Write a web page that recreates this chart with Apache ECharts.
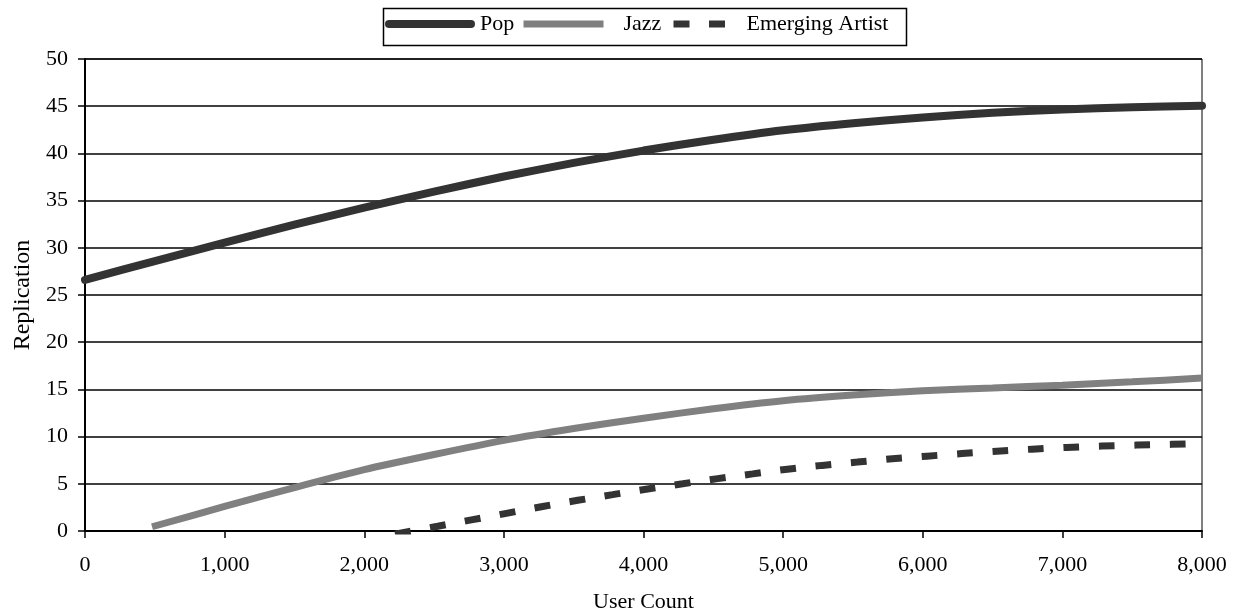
<!DOCTYPE html>
<html>
<head>
<meta charset="utf-8">
<script src="https://cdn.jsdelivr.net/npm/echarts@6/dist/echarts.min.js"></script>
<style>
html,body{margin:0;padding:0;background:#fff;}
#chart{width:1235px;height:612px;}
</style>
</head>
<body>
<div id="chart"></div>
<script>
// ---- data ----
var seriesNames = ['Pop', 'Jazz', 'Emerging Artist'];
var xTicks = [0, 1000, 2000, 3000, 4000, 5000, 6000, 7000, 8000];
var yTicks = [0, 5, 10, 15, 20, 25, 30, 35, 40, 45, 50];

var popData = [
  [0, 26.6], [500, 28.6], [1000, 30.55], [1500, 32.45], [2000, 34.25], [2500, 35.95],
  [3000, 37.55], [3500, 39.0], [4000, 40.3], [4500, 41.45], [5000, 42.45], [5500, 43.2],
  [6000, 43.8], [6500, 44.3], [7000, 44.65], [7500, 44.9], [8000, 45.05]
];
var jazzData = [
  [480, 0.45], [1000, 2.6], [1500, 4.6], [2000, 6.5], [2500, 8.1], [3000, 9.6],
  [3500, 10.85], [4000, 11.95], [4500, 12.95], [5000, 13.8], [5500, 14.4], [6000, 14.85],
  [6500, 15.15], [7000, 15.45], [7500, 15.8], [8000, 16.2]
];
var emergingData = [
  [2220, -0.33], [2526, 0.5], [2777, 1.2], [3027, 1.9], [3278, 2.6], [3529, 3.25],
  [3779, 3.85], [4030, 4.45], [4281, 5.0], [4531, 5.55], [4782, 6.05], [5030, 6.55],
  [5280, 6.95], [5531, 7.3], [5782, 7.65], [6030, 7.93], [6281, 8.2], [6532, 8.45],
  [6782, 8.67], [7030, 8.85], [7281, 9.0], [7532, 9.1], [7782, 9.18], [8000, 9.25]
];

var FONT = "'Liberation Serif', 'Times New Roman', serif";
var chart = echarts.init(document.getElementById('chart'), null, {renderer: 'canvas'});

function fmtThousands(v) {
  return String(v).replace(/\B(?=(\d{3})+(?!\d))/g, ',');
}

var popStyle = {color: '#333333', width: 8, cap: 'round', type: 'solid'};
var jazzStyle = {color: '#808080', width: 7, cap: 'butt', type: 'solid'};
var emergingStyle = {color: '#333333', width: 7, cap: 'butt', type: [16, 19.5]};
var hiddenSymbol = {color: 'rgba(0,0,0,0)', borderColor: 'rgba(0,0,0,0)', borderWidth: 0};

function legendFor(name, left, width, lineStyle, textPad) {
  return {
    top: 13, left: left, padding: 0, itemHeight: 22, itemWidth: width,
    data: [name],
    itemStyle: hiddenSymbol,
    lineStyle: lineStyle,
    textStyle: {fontFamily: FONT, fontSize: 22, color: '#000', padding: [0, 0, 0, textPad]}
  };
}

var option = {
  animation: false,
  backgroundColor: '#fff',
  textStyle: {fontFamily: FONT},
  grid: {left: 85, right: 33, top: 59, bottom: 81, outerBoundsMode: 'none', show: true, borderColor: '#000', borderWidth: 1, backgroundColor: 'transparent'},
  legend: [
    legendFor(seriesNames[0], 385, 82, popStyle, 4),
    legendFor(seriesNames[1], 520, 80, jazzStyle, 15),
    legendFor(seriesNames[2], 670, 52, emergingStyle, 16)
  ],
  graphic: [{
    type: 'rect', left: 381, top: 6, shape: {width: 523, height: 37},
    style: {fill: 'none', stroke: '#000', lineWidth: 1.5}, silent: true
  }],
  xAxis: {
    type: 'value', min: xTicks[0], max: xTicks[xTicks.length - 1], interval: 1000,
    name: 'User Count', nameLocation: 'middle', nameGap: 60,
    nameTextStyle: {fontFamily: FONT, fontSize: 22, color: '#000'},
    axisLine: {show: true, onZero: false, lineStyle: {color: '#000', width: 2}},
    axisTick: {show: true, length: 7, inside: false, lineStyle: {color: '#000', width: 1.5}},
    axisLabel: {fontFamily: FONT, fontSize: 22, color: '#000', margin: 23, formatter: fmtThousands},
    splitLine: {show: false}
  },
  yAxis: {
    type: 'value', min: yTicks[0], max: yTicks[yTicks.length - 1], interval: 5,
    name: 'Replication', nameLocation: 'middle', nameGap: 46,
    nameTextStyle: {fontFamily: FONT, fontSize: 24, color: '#000'},
    axisLine: {show: true, onZero: false, lineStyle: {color: '#000', width: 2}},
    axisTick: {show: true, length: 7, inside: false, lineStyle: {color: '#000', width: 1.5}},
    axisLabel: {fontFamily: FONT, fontSize: 22, color: '#000', margin: 17},
    splitLine: {show: true, lineStyle: {color: '#000', width: 1.5}}
  },
  series: [
    {
      name: seriesNames[0], type: 'line', data: popData, smooth: 0.25,
      symbol: 'none', clip: true, color: '#333333', lineStyle: popStyle
    },
    {
      name: seriesNames[1], type: 'line', data: jazzData, smooth: 0.25,
      symbol: 'none', clip: true, color: '#808080', lineStyle: jazzStyle
    },
    {
      name: seriesNames[2], type: 'line', data: emergingData, smooth: 0.25,
      symbol: 'none', clip: true, color: '#333333', lineStyle: emergingStyle
    }
  ]
};
chart.setOption(option);
</script>
</body>
</html>
